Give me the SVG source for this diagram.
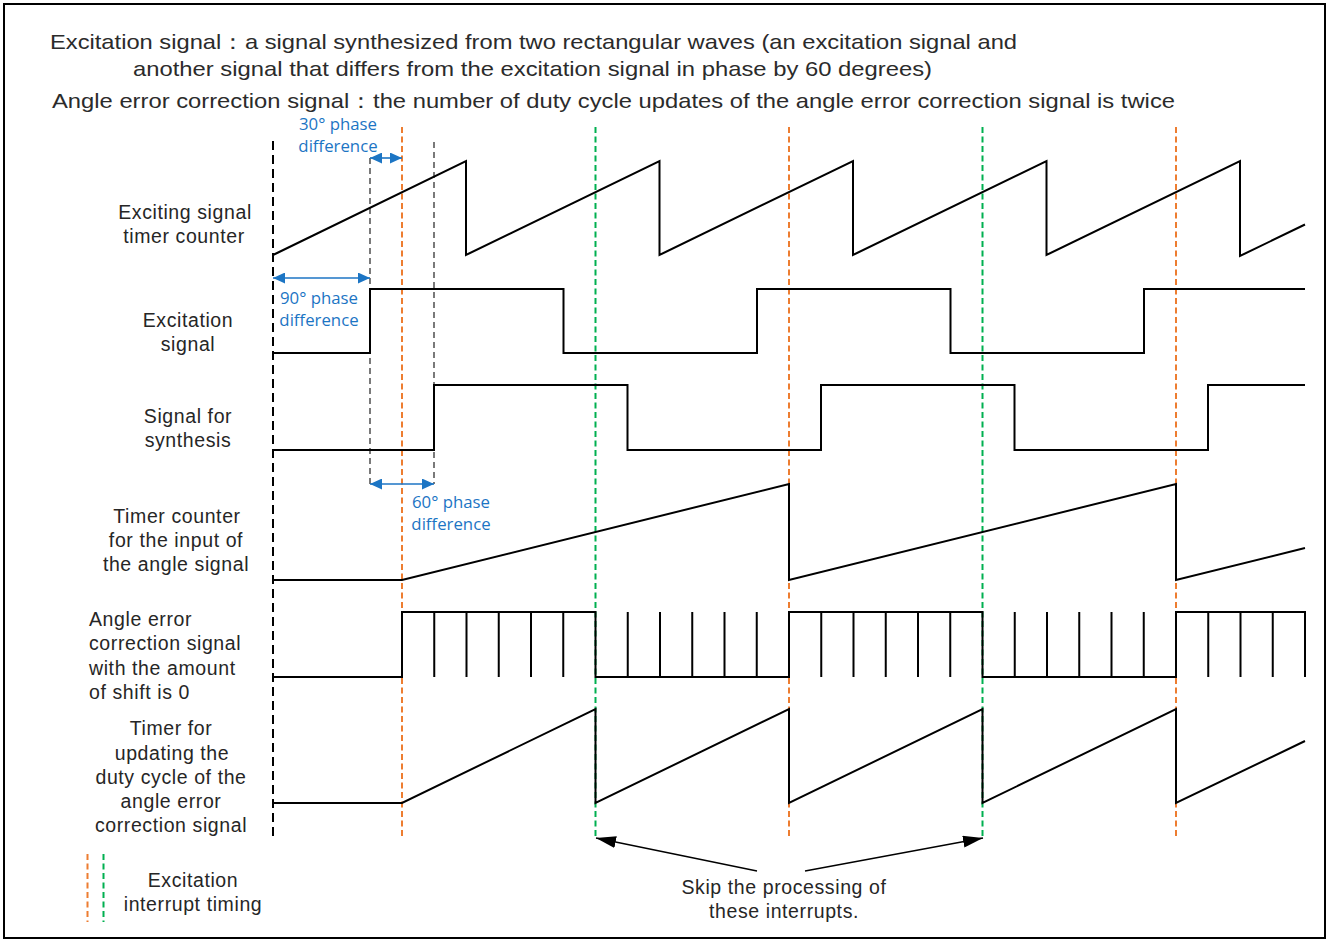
<svg xmlns="http://www.w3.org/2000/svg" width="1328" height="939" viewBox="0 0 1328 939">
<style>
.t{font-family:"Liberation Sans",Arial,sans-serif;fill:#262626}
.ttl{font-size:21px;fill:#2b2b2b}
.lbl{font-size:19.5px;letter-spacing:0.6px;text-anchor:middle}
.lbll{font-size:19.5px;letter-spacing:0.6px}
.blue{font-family:"Open Sans","Noto Sans",sans-serif;font-size:16.8px;fill:#1C75C4;text-anchor:middle}
.sig{fill:none;stroke:#000;stroke-width:2;stroke-linejoin:miter}
.tick{fill:none;stroke:#000;stroke-width:2}
.orange{stroke:#ED7D31;stroke-width:2;stroke-dasharray:6 3.5;fill:none}
.green{stroke:#00B050;stroke-width:2;stroke-dasharray:6 3.5;fill:none}
.bdash{stroke:#000;stroke-width:2;stroke-dasharray:9 5;fill:none}
.tdash{stroke:#222;stroke-width:1.2;stroke-dasharray:6 4;fill:none}
.barr{stroke:#1C75C4;stroke-width:1.6;fill:none;marker-start:url(#ba);marker-end:url(#ba)}
.karr{stroke:#000;stroke-width:1.3;fill:none;marker-end:url(#ka)}
</style>
<defs>
<marker id="ba" viewBox="0 0 12 11" refX="12" refY="5.5" markerWidth="12" markerHeight="11" markerUnits="userSpaceOnUse" orient="auto-start-reverse"><path d="M0,0 L12,5.5 L0,11 z" fill="#1C75C4"/></marker>
<marker id="ka" viewBox="0 0 20 12" refX="20" refY="6" markerWidth="20" markerHeight="12" markerUnits="userSpaceOnUse" orient="auto"><path d="M0,0 L20,6 L0,12 z" fill="#000"/></marker>
</defs>
<rect x="4" y="4" width="1321" height="934" fill="#fff" stroke="#000" stroke-width="2"/>

<g id="title">
<text class="t ttl" x="50" y="49" textLength="967" lengthAdjust="spacingAndGlyphs">Excitation signal：a signal synthesized from two rectangular waves (an excitation signal and</text>
<text class="t ttl" x="133" y="76" textLength="799" lengthAdjust="spacingAndGlyphs">another signal that differs from the excitation signal in phase by 60 degrees)</text>
<text class="t ttl" x="52" y="108" textLength="1123" lengthAdjust="spacingAndGlyphs">Angle error correction signal：the number of duty cycle updates of the angle error correction signal is twice</text>
</g>

<g id="guides">
<line class="bdash" x1="273" y1="141" x2="273" y2="838"/>
<line class="tdash" x1="370" y1="158" x2="370" y2="484"/>
<line class="tdash" x1="434" y1="142" x2="434" y2="484"/>
<line class="orange" x1="402" y1="127" x2="402" y2="838"/>
<line class="orange" x1="789" y1="127" x2="789" y2="838"/>
<line class="orange" x1="1176" y1="127" x2="1176" y2="838"/>
<line class="green" x1="595.5" y1="127" x2="595.5" y2="838"/>
<line class="green" x1="982.5" y1="127" x2="982.5" y2="838"/>
</g>

<g id="exciting-timer">
<text class="t lbl" x="185" y="219">Exciting signal</text>
<text class="t lbl" x="184" y="243">timer counter</text>
<path class="sig" d="M273 255 L466 161 V255 L659.5 161 V255 L853 161 V255 L1046.5 161 V255 L1240 161 V256 L1305 224.5"/>
</g>

<g id="excitation-signal">
<text class="t lbl" x="188" y="327">Excitation</text>
<text class="t lbl" x="188" y="351">signal</text>
<path class="sig" d="M272 353 H370 V289 H563.5 V353 H757 V289 H950.5 V353 H1144 V289 H1305"/>
</g>

<g id="synthesis-signal">
<text class="t lbl" x="188" y="423">Signal for</text>
<text class="t lbl" x="188" y="447">synthesis</text>
<path class="sig" d="M272 450 H434 V385 H627.5 V450 H821 V385 H1014.5 V450 H1208 V385 H1305"/>
</g>

<g id="angle-input-timer">
<text class="t lbl" x="177" y="523">Timer counter</text>
<text class="t lbl" x="176" y="547">for the input of</text>
<text class="t lbl" x="176" y="571">the angle signal</text>
<path class="sig" d="M272 580 H402 L789 484 V580 L1176 484 V580 L1305 548"/>
</g>

<g id="angle-correction">
<text class="t lbll" x="89" y="626">Angle error</text>
<text class="t lbll" x="89" y="650">correction signal</text>
<text class="t lbll" x="89" y="675">with the amount</text>
<text class="t lbll" x="89" y="699">of shift is 0</text>
<path class="sig" d="M272 677 H402 V612 H595.5 V677 H789 V612 H982.5 V677 H1176 V612 H1305 V677"/>
<path class="tick" d="M434.25 612V677 M466.5 612V677 M498.75 612V677 M531 612V677 M563.25 612V677 M627.75 612V677 M660 612V677 M692.25 612V677 M724.5 612V677 M756.75 612V677 M821.25 612V677 M853.5 612V677 M885.75 612V677 M918 612V677 M950.25 612V677 M1014.75 612V677 M1047 612V677 M1079.25 612V677 M1111.5 612V677 M1143.75 612V677 M1208.25 612V677 M1240.5 612V677 M1272.75 612V677"/>
</g>

<g id="duty-timer">
<text class="t lbl" x="171" y="735">Timer for</text>
<text class="t lbl" x="172" y="760">updating the</text>
<text class="t lbl" x="171" y="784">duty cycle of the</text>
<text class="t lbl" x="171" y="808">angle error</text>
<text class="t lbl" x="171" y="832">correction signal</text>
<path class="sig" d="M272 803 H402 L595.5 709 V803 L789 709 V803 L982.5 709 V803 L1176 709 V803 L1305 741"/>
</g>

<g id="phase-labels">
<text class="blue" x="338" y="130">30° phase</text>
<text class="blue" x="338" y="152">difference</text>
<text class="blue" x="319" y="304">90° phase</text>
<text class="blue" x="319" y="326">difference</text>
<text class="blue" x="451" y="508">60° phase</text>
<text class="blue" x="451" y="530">difference</text>
</g>

<g id="legend">
<line class="orange" x1="87.5" y1="854" x2="87.5" y2="922"/>
<line class="green" x1="103.5" y1="854" x2="103.5" y2="922"/>
<text class="t lbl" x="193" y="887">Excitation</text>
<text class="t lbl" x="193" y="911">interrupt timing</text>
</g>

<g id="skip-note">
<text class="t lbl" x="784" y="894">Skip the processing of</text>
<text class="t lbl" x="784" y="918">these interrupts.</text>
</g>

<g id="connectors">
<line class="barr" x1="370" y1="158" x2="402" y2="158"/>
<line class="barr" x1="273" y1="278" x2="370" y2="278"/>
<line class="barr" x1="370" y1="484" x2="434" y2="484"/>
<line class="karr" x1="757" y1="871" x2="596" y2="838"/>
<line class="karr" x1="805" y1="871" x2="983" y2="838"/>
</g>
</svg>
